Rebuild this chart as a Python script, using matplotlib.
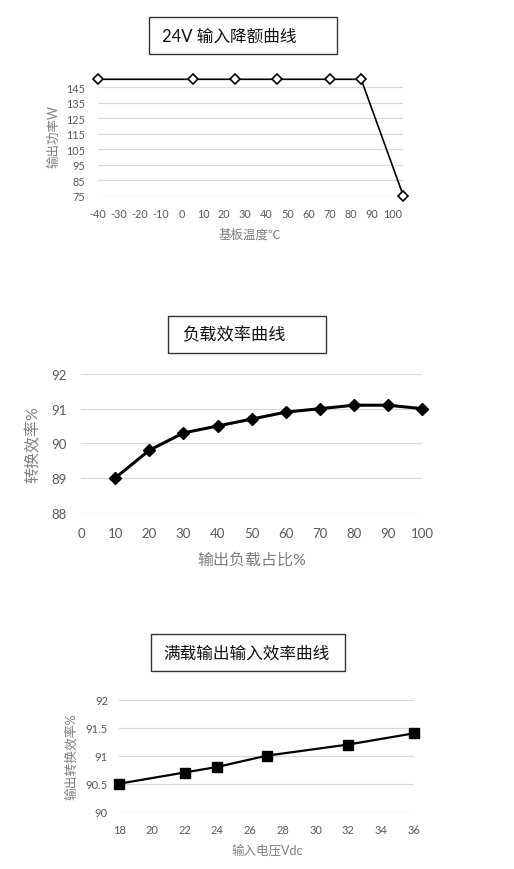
import numpy as np
import matplotlib
matplotlib.use('Agg')
import matplotlib.pyplot as plt
from matplotlib.patches import Rectangle

plt.rcParams['font.family'] = ['Lato', 'Noto Sans CJK SC', 'DejaVu Sans']
plt.rcParams['axes.unicode_minus'] = False

# chart 1: derating curve
temp = [-40, 5, 25, 45, 70, 85, 105]
power = [150, 150, 150, 150, 150, 150, 75]
temp_ticks = list(range(-40, 101, 10))
power_ticks = [75, 85, 95, 105, 115, 125, 135, 145]

# chart 2: load efficiency
load = [10, 20, 30, 40, 50, 60, 70, 80, 90, 100]
eff_load = [89.0, 89.8, 90.3, 90.5, 90.7, 90.9, 91.0, 91.1, 91.1, 91.0]
load_ticks = list(range(0, 101, 10))
eff_ticks = [88, 89, 90, 91, 92]

# chart 3: full-load efficiency vs input voltage
vin = [18, 22, 24, 27, 32, 36]
eff_vin = [90.5, 90.7, 90.8, 91.0, 91.2, 91.4]
vin_ticks = list(range(18, 37, 2))
eff_vin_ticks = [90, 90.5, 91, 91.5, 92]
eff_vin_labels = ['90', '90.5', '91', '91.5', '92']

W, H = 514, 870
fig = plt.figure(figsize=(W / 100, H / 100), dpi=100)
gray = '#595959'
grid = '#d9d9d9'


def px_axes(x0, y0, x1, y1):
    return fig.add_axes([x0 / W, 1 - y1 / H, (x1 - x0) / W, (y1 - y0) / H])


def style(ax, fs, xpad, ypad):
    for s in ax.spines.values():
        s.set_visible(False)
    ax.grid(axis='y', color=grid, linewidth=0.9)
    ax.set_axisbelow(True)
    ax.tick_params(length=0, labelsize=fs, labelcolor=gray)
    ax.tick_params(axis='x', pad=xpad)
    ax.tick_params(axis='y', pad=ypad)


def title_box(x0, y0, x1, y1, text, fs, tx):
    fig.add_artist(Rectangle((x0 / W, 1 - y1 / H), (x1 - x0) / W, (y1 - y0) / H,
                             transform=fig.transFigure, fill=False,
                             edgecolor='#333333', linewidth=1.0))
    fig.text(tx / W, 1 - (y0 + y1) / 2 / H, text, fontsize=fs, color='#111111',
             ha='left', va='center')


# chart 1
ax1 = px_axes(97.7, 80.3, 403.3, 196.7)
ax1.plot(temp, power, color='black', linewidth=1.2, marker='D', markersize=5,
         markerfacecolor='white', markeredgecolor='black', markeredgewidth=1.2,
         clip_on=False)
ax1.set_xlim(-40, 105)
ax1.set_ylim(75, 150)
ax1.set_xticks(temp_ticks)
ax1.set_yticks(power_ticks)
style(ax1, 7.8, 9, 9)
title_box(149, 18, 337, 55, '24V 输入降额曲线', 12, 162)
fig.text(53 / W, 1 - 137 / H, '输出功率W', rotation=90, fontsize=9, color='#7f7f7f',
         ha='center', va='center')
fig.text(250 / W, 1 - 235 / H, '基板温度℃', fontsize=9, color='#7f7f7f',
         ha='center', va='center', family=['Noto Sans CJK SC', 'DejaVu Sans'])

# chart 2
ax2 = px_axes(81, 375, 422.3, 513.7)
ax2.plot(load, eff_load, color='black', linewidth=2.2, marker='D', markersize=6.5,
         clip_on=False)
ax2.set_xlim(0, 100)
ax2.set_ylim(88, 92)
ax2.set_xticks(load_ticks)
ax2.set_yticks(eff_ticks)
style(ax2, 9.5, 10, 10)
title_box(168, 317, 326, 354, '负载效率曲线', 12.4, 182)
fig.text(33 / W, 1 - 445 / H, '转换效率%', rotation=90, fontsize=11.5, color='#7f7f7f',
         ha='center', va='center')
fig.text(252 / W, 1 - 560 / H, '输出负载占比%', fontsize=11.5, color='#7f7f7f',
         ha='center', va='center')

# chart 3
ax3 = px_axes(119, 700.7, 414, 812.7)
ax3.plot(vin, eff_vin, color='black', linewidth=1.6, marker='s', markersize=6.5,
         clip_on=False)
ax3.set_xlim(18, 36)
ax3.set_ylim(90, 92)
ax3.set_xticks(vin_ticks)
ax3.set_yticks(eff_vin_ticks)
ax3.set_yticklabels(eff_vin_labels)
style(ax3, 8, 9, 8)
title_box(150.7, 635, 345, 672, '满载输出输入效率曲线', 12, 163)
fig.text(71 / W, 1 - 757 / H, '输出转换效率%', rotation=90, fontsize=9.2, color='#7f7f7f',
         ha='center', va='center')
fig.text(267 / W, 1 - 850 / H, '输入电压Vdc', fontsize=9, color='#7f7f7f',
         ha='center', va='center')

fig.savefig('out.png', dpi=100)
